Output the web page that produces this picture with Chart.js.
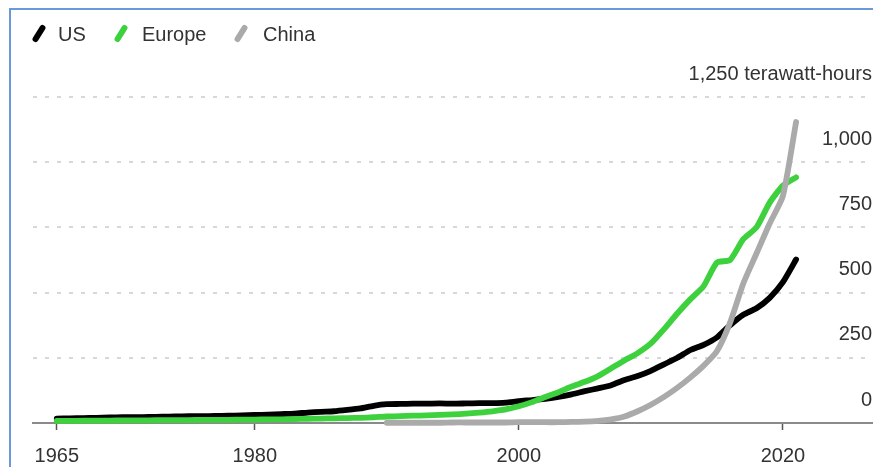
<!DOCTYPE html>
<html>
<head>
<meta charset="utf-8">
<script src="https://cdn.jsdelivr.net/npm/chart.js@4"></script>
<style>
  body { margin: 0; background: #fff; }
  #wrap { position: relative; width: 885px; height: 467px; overflow: hidden; font-family: 'Liberation Sans', Arial, sans-serif; }
  #frame { position: absolute; left: 9px; top: 8px; width: 862px; height: 470px; border-top: 2px solid #6b98d6; border-left: 2px solid #6b98d6; }
  #myChart { position: absolute; left: 0; top: 0; }
  .key { position: absolute; top: 21px; height: 26px; line-height: 26px; font-size: 20px; color: #333; }
  .slash { position: absolute; width: 6px; height: 19px; border-radius: 3px; transform: rotate(32deg); }
</style>
</head>
<body>
<div id="wrap">
  <div id="frame"></div>
  <canvas id="myChart" width="885" height="467"></canvas>
  <div id="legend"></div>
</div>
<script>
const years = []
for (let y = 1965; y <= 2021; y++) years.push(y)

const usValues = [
  17, 18, 19, 20, 21, 22, 22, 23, 24, 25,
  26, 26, 27, 28, 29, 31, 32, 34, 36, 40,
  43, 45, 50, 56, 66, 72, 73, 74, 74, 75,
  74, 75, 76, 76, 78, 84, 88, 93, 100, 110,
  122, 133, 145, 165, 180, 200, 225, 250, 280, 300,
  328, 375, 415, 440, 480, 540, 627
]

const europeValues = [
  8, 8, 9, 9, 9, 10, 10, 10, 11, 11,
  11, 12, 12, 12, 13, 13, 14, 14, 15, 16,
  17, 18, 19, 20, 22, 25, 26, 28, 29, 31,
  33, 36, 40, 45, 52, 64, 80, 100, 118, 140,
  158, 180, 210, 240, 268, 305, 360, 420, 475, 525,
  615, 625, 705, 750, 845, 910, 942
]

// China series only starts in 1990
const chinaValues = [
  null, null, null, null, null, null, null, null, null, null,
  null, null, null, null, null, null, null, null, null, null,
  null, null, null, null, null, 1, 1, 1, 1, 1,
  2, 2, 2, 2, 2, 3, 3, 3, 3, 4,
  5, 8, 14, 25, 45, 70, 100, 135, 175, 220,
  275, 385, 535, 650, 765, 870, 1154
]

const seriesNames = ['US', 'Europe', 'China']
const seriesColors = ['#000000', '#3dd13d', '#aaaaaa']
const xTicks = [1965, 1980, 2000, 2020]
const yTicks = [0, 250, 500, 750, 1000, 1250]

const font = "'Liberation Sans', Arial, sans-serif"

// legend
const legendPos = [[33, 58], [115, 142], [235, 263]]
const legend = document.querySelector('#legend')
seriesNames.forEach((name, i) => {
  const slash = document.createElement('div')
  slash.className = 'slash'
  slash.style.background = seriesColors[i]
  slash.style.left = (legendPos[i][0] + 3) + 'px'
  slash.style.top = '24px'
  legend.appendChild(slash)
  const label = document.createElement('div')
  label.className = 'key'
  label.style.left = legendPos[i][1] + 'px'
  label.textContent = name
  legend.appendChild(label)
})

const toPoints = values => years.map((y, i) => ({ x: y, y: values[i] }))

const ctx = document.getElementById('myChart')

const grafica = new Chart(ctx, {
  type: 'line',
  data: {
    datasets: [{
      label: 'US',
      data: toPoints(usValues),
      borderColor: seriesColors[0],
      order: 2
    }, {
      label: 'Europe',
      data: toPoints(europeValues),
      borderColor: seriesColors[1],
      order: 1
    }, {
      label: 'China',
      data: toPoints(chinaValues),
      borderColor: seriesColors[2],
      order: 0
    }]
  },
  options: {
    responsive: false,
    animation: false,
    layout: {
      padding: { left: 33, right: 13, top: 97, bottom: -15 }
    },
    elements: {
      line: { borderWidth: 5.8, tension: 0.2, borderCapStyle: 'round', borderJoinStyle: 'round' },
      point: { radius: 0 }
    },
    datasets: {
      line: { clip: false, spanGaps: false }
    },
    plugins: {
      legend: { display: false },
      tooltip: { enabled: false }
    },
    scales: {
      x: {
        type: 'linear',
        min: 1963.2,
        max: 2026.75,
        afterBuildTicks: scale => { scale.ticks = xTicks.map(v => ({ value: v })) },
        grid: { drawOnChartArea: false, drawTicks: true, tickLength: 7, tickColor: '#555', tickWidth: 1.5 },
        border: { display: true, color: '#8a8a8a', width: 2 },
        ticks: {
          color: '#333',
          padding: 16,
          maxRotation: 0,
          font: { family: font, size: 20, lineHeight: 1 },
          callback: v => String(v)
        }
      },
      y: {
        position: 'right',
        min: 0,
        max: 1250,
        afterBuildTicks: scale => { scale.ticks = yTicks.map(v => ({ value: v })) },
        grid: {
          drawTicks: false,
          lineWidth: 2,
          color: c => (c.tick && c.tick.value === 0) ? 'rgba(0,0,0,0)' : '#d8d8d8'
        },
        border: { display: false, dash: [4, 8] },
        ticks: {
          mirror: true,
          padding: 0,
          labelOffset: -23,
          color: '#333',
          font: { family: font, size: 20 },
          callback: v => v === 1250 ? '1,250 terawatt-hours' : v.toLocaleString('en-US')
        }
      }
    }
  }
})
</script>
</body>
</html>
